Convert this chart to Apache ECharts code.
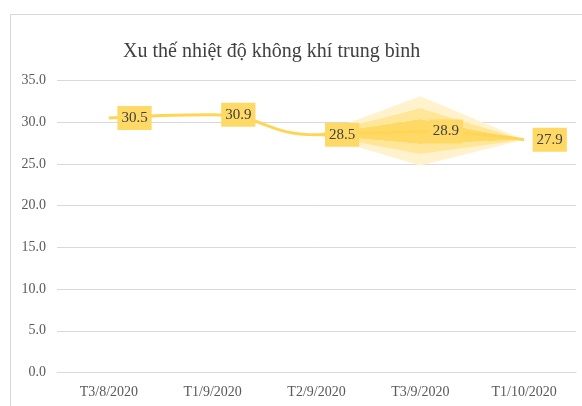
<!DOCTYPE html>
<html>
<head>
<meta charset="utf-8">
<script src="https://cdn.jsdelivr.net/npm/echarts@6/dist/echarts.min.js"></script>
<style>html,body{margin:0;padding:0;background:#fff;}#c{width:582px;height:406px;}</style>
</head>
<body>
<div id="c"></div>
<script>
const titleText = 'Xu thế nhiệt độ không khí trung bình';
const categories = ['T3/8/2020', 'T1/9/2020', 'T2/9/2020', 'T3/9/2020', 'T1/10/2020'];
const temperature = [30.5, 30.9, 28.5, 28.9, 27.9];
// forecast fan bounds
const outerLow  = ['-', '-', 28.5, 24.8, 27.9];
const midLow    = ['-', '-', 28.5, 26.2, 27.9];
const innerLow  = ['-', '-', 28.5, 27.4, 27.9];
const innerHigh = ['-', '-', 28.5, 30.4, 27.9];
const midHigh   = ['-', '-', 28.5, 31.7, 27.9];
const outerHigh = ['-', '-', 28.5, 33.1, 27.9];
const yTicks = { min: 0, max: 35, interval: 5 };

const serif = '"Liberation Serif", "Times New Roman", serif';
function diff(a, b) { return a.map((v, i) => v === '-' ? '-' : +(v - b[i]).toFixed(3)); }
function band(name, data, color) {
  return { name, type: 'line', stack: 'fan', data, symbol: 'none', silent: true,
    lineStyle: { opacity: 0, width: 0 }, areaStyle: color ? { color, opacity: 1 } : undefined, z: 1 };
}
const chart = echarts.init(document.getElementById('c'), null, { renderer: 'canvas' });
chart.setOption({
  animation: false,
  backgroundColor: '#fff',
  title: { text: titleText, left: 118, top: 37,
    textStyle: { fontFamily: serif, fontSize: 20, fontWeight: 'normal', color: '#404040' } },
  graphic: [{ type: 'rect', shape: { x: 10.5, y: 14.5, width: 620, height: 430 },
    style: { fill: 'none', stroke: '#d9d9d9', lineWidth: 1 }, silent: true }],
  grid: { left: 57, right: 6, top: 80.5, bottom: 33.5, containLabel: false },
  xAxis: { type: 'category', data: categories, boundaryGap: true,
    axisLine: { show: true, lineStyle: { color: '#d9d9d9' } }, axisTick: { show: false },
    axisLabel: { fontFamily: serif, fontSize: 14, color: '#595959', margin: 13 } },
  yAxis: { type: 'value', min: yTicks.min, max: yTicks.max, interval: yTicks.interval,
    axisLine: { show: false }, axisTick: { show: false },
    splitLine: { lineStyle: { color: '#d9d9d9' } },
    axisLabel: { fontFamily: serif, fontSize: 14, color: '#595959', margin: 11,
      formatter: v => v.toFixed(1) } },
  series: [
    band('base', outerLow, null),
    band('outerLow', diff(midLow, outerLow), '#FFF2CC'),
    band('midLow', diff(innerLow, midLow), '#FFE699'),
    band('inner', diff(innerHigh, innerLow), '#FFD966'),
    band('midHigh', diff(midHigh, innerHigh), '#FFE699'),
    band('outerHigh', diff(outerHigh, midHigh), '#FFF2CC'),
    { name: 'Nhiệt độ', type: 'line', data: temperature, smooth: true,
      symbol: 'circle', symbolSize: 1, showSymbol: true, itemStyle: { color: '#FFD555', opacity: 0 }, z: 5,
      lineStyle: { color: '#FFD555', width: 3 },
      label: { show: true, position: 'right', distance: 8, formatter: p => p.value.toFixed(1),
        backgroundColor: '#FFD966', padding: [5, 4, 4, 4], fontFamily: serif, fontSize: 15,
        color: '#404040', opacity: 1 } }
  ]
});
</script>
</body>
</html>
